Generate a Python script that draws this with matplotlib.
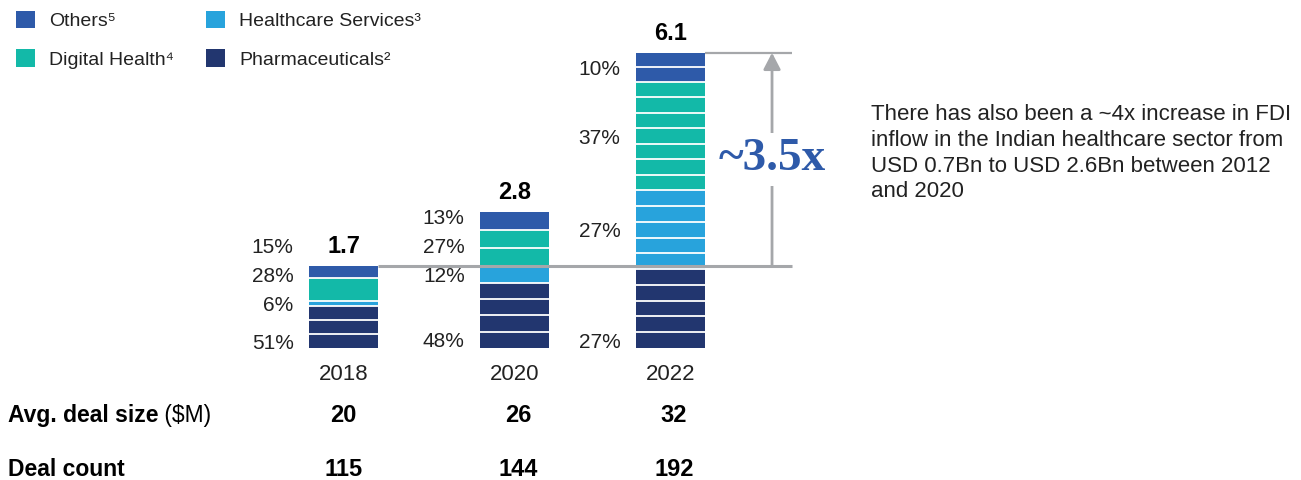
import numpy as np
import matplotlib
matplotlib.use("Agg")
import matplotlib.pyplot as plt
from matplotlib.patches import Patch, FancyArrowPatch

plt.rcParams['font.family'] = ['Liberation Sans', 'DejaVu Sans']

# ---- data -------------------------------------------------------------
years = ['2018', '2020', '2022']
totals = [1.7, 2.8, 6.1]                 # investment, USD Bn
pharma_pct = [51, 48, 27]
healthcare_pct = [6, 12, 27]
digital_pct = [28, 27, 37]
others_pct = [15, 13, 10]
avg_deal_size = [20, 26, 32]             # $M
deal_count = [115, 144, 192]

segment_names = ['Pharmaceuticals', 'Healthcare Services', 'Digital Health', 'Others']
segment_notes = ['\u00b2', '\u00b3', '\u2074', '\u2075']
segment_colors = ['#22366f', '#28a3dc', '#13b9a8', '#2e5aa9']
growth_label = '~3.5x'
side_note = ("There has also been a ~4x increase in FDI\n"
             "inflow in the Indian healthcare sector from\n"
             "USD 0.7Bn to USD 2.6Bn between 2012\n"
             "and 2020")

# ---- figure / axes ----------------------------------------------------
W, H, DPI = 1301, 480, 100
fig = plt.figure(figsize=(W / DPI, H / DPI), dpi=DPI)
ax = fig.add_axes([0, 0, 1, 1])
ax.set_axis_off()

x_unit = 171.0      # px per category step
y_unit = 48.4       # px per USD Bn
x0_px, y0_px = 343.5, 348.0
ax.set_xlim(-x0_px / x_unit, (W - x0_px) / x_unit)
ax.set_ylim(-(H - y0_px) / y_unit, y0_px / y_unit)

xpos = np.array([0.0, 1.0, 1.912])
bar_w = 0.403
block = 0.32        # nominal height of one stacked tile
grey = '#a5a7aa'
text_col = '#222222'

shares = np.array([pharma_pct, healthcare_pct, digital_pct, others_pct], dtype=float)
shares = shares / shares.sum(axis=0)

for i, (x, tot) in enumerate(zip(xpos, totals)):
    heights = shares[:, i] * tot
    bottoms = np.concatenate([[0], np.cumsum(heights)[:-1]])
    seps = []
    for j, (b, h) in enumerate(zip(bottoms, heights)):
        ax.bar(x, h, bar_w, bottom=b, color=segment_colors[j], linewidth=0, zorder=2)
        n = max(1, int(round(h / block)))
        seps += [b + k * h / n for k in range(1, n)]
        if j < len(heights) - 1:
            seps.append(b + h)
    ax.hlines(seps, x - bar_w / 2, x + bar_w / 2, color='white', lw=1.3, zorder=3)

    # percentage labels left of the bar
    pcts = [pharma_pct[i], healthcare_pct[i], digital_pct[i], others_pct[i]]
    n0 = max(1, int(round(heights[0] / block)))
    ys = [heights[0] / n0 / 2]
    for j in range(1, 4):
        c = bottoms[j] + heights[j] / 2
        ys.append(max(c, ys[-1] + 0.6))
    for p, yy in zip(pcts, ys):
        ax.text(x - bar_w / 2 - 0.09, yy, f'{p}%', ha='right', va='center_baseline',
                fontsize=15, color=text_col)

    # total on top
    ax.text(x, tot + 0.27, f'{tot:.1f}', ha='center', va='baseline',
            fontsize=17, fontweight='bold', color='black')
    # year
    ax.text(x, -0.5, years[i], ha='center', va='center_baseline', fontsize=16, color=text_col)
    # table rows
    ax.text(x + (0.02 if i else 0), -1.343, str(avg_deal_size[i]), ha='center',
            va='center_baseline', fontsize=17, fontweight='bold', color='black')
    ax.text(x + (0.02 if i else 0), -2.459, str(deal_count[i]), ha='center',
            va='center_baseline', fontsize=17, fontweight='bold', color='black')

# row headers
yax = ax.get_yaxis_transform()
t = ax.text(8 / W, -1.343, 'Avg. deal size', transform=yax, ha='left', va='center_baseline',
            fontsize=16.5, fontweight='bold', color='black')
ax.annotate(' ($M)', xy=(1, 0), xycoords=t, ha='left', va='bottom',
            fontsize=16.5, color='black')
ax.text(8 / W, -2.459, 'Deal count', transform=yax, ha='left', va='center_baseline',
        fontsize=16.5, fontweight='bold', color='black')

# growth marker: reference line at 2018 level, top line at 2022 level, arrow
x_end = xpos[2] + 0.71
x_arrow = xpos[2] + 0.594
ax.hlines(totals[0], xpos[0] + bar_w / 2, x_end, color=grey, lw=2.2, zorder=4)
ax.hlines(totals[2], xpos[2] + bar_w / 2, x_end, color=grey, lw=1.6, zorder=4)
arrow = FancyArrowPatch((x_arrow, totals[0]), (x_arrow, totals[2]),
                        arrowstyle='-|>,head_length=0.5,head_width=0.26',
                        mutation_scale=20, color=grey, lw=2.0,
                        shrinkA=0, shrinkB=0, zorder=4)
ax.add_patch(arrow)
ax.text(x_arrow, (totals[0] + totals[2]) / 2, growth_label, ha='center', va='center',
        fontsize=34, fontweight='bold', family='Liberation Serif', color='#2e5aa9',
        zorder=5, bbox=dict(facecolor='white', edgecolor='none', pad=4))

# side note
fig.text(871 / W, 1 - 104 / H, side_note, ha='left', va='top', fontsize=16,
         color=text_col, linespacing=1.3)

# legend
handles = [Patch(facecolor=segment_colors[k], edgecolor='none',
                 label=segment_names[k] + segment_notes[k]) for k in range(4)]
order = [3, 2, 1, 0]
leg = fig.legend([handles[k] for k in order], [handles[k].get_label() for k in order],
                 loc='upper left', bbox_to_anchor=(16 / W, 1 - 11 / H), ncol=2,
                 frameon=False, fontsize=14, handlelength=1.0, handleheight=1.0,
                 handletextpad=0.7, columnspacing=1.65, labelspacing=0.98,
                 borderpad=0, borderaxespad=0)
for txt in leg.get_texts():
    txt.set_color(text_col)

fig.savefig('out.png', dpi=DPI)
